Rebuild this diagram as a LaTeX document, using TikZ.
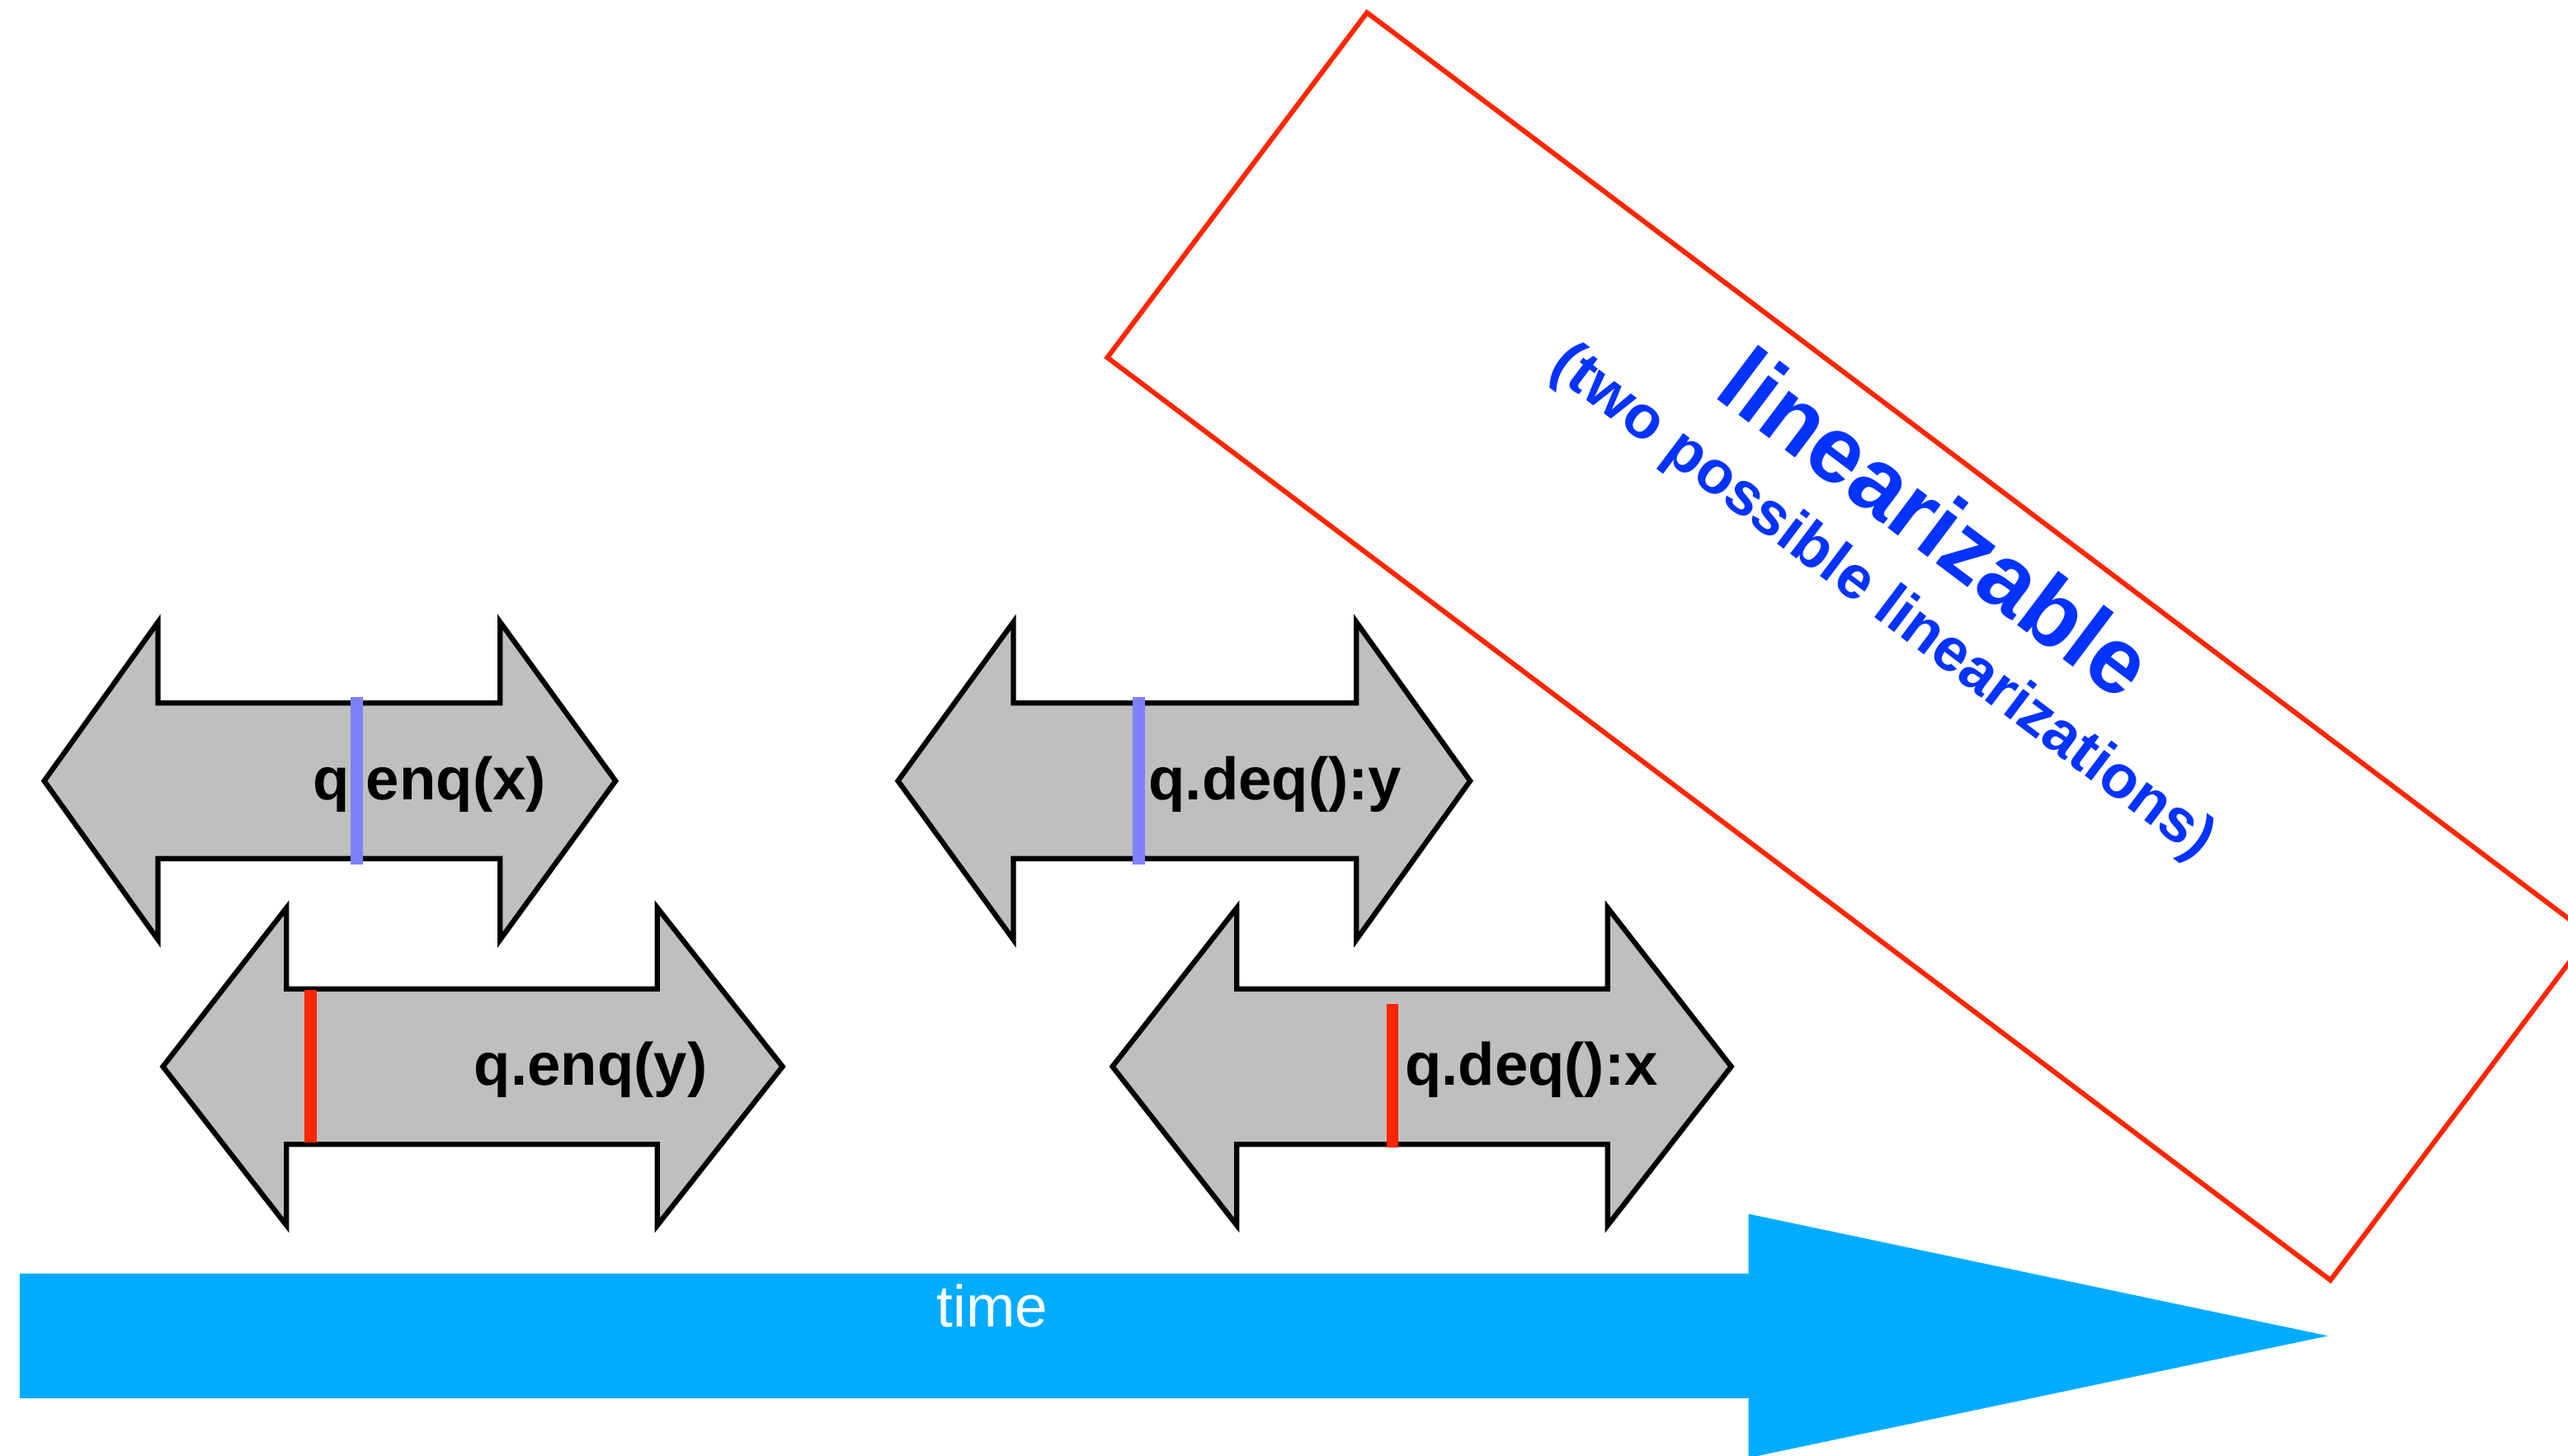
\documentclass[tikz,border=0pt]{standalone}
\usepackage{fontspec}
\setmainfont{Liberation Sans}
\definecolor{qgray}{RGB}{191,191,191}
\definecolor{mblue}{RGB}{128,128,255}
\definecolor{mred}{RGB}{255,38,0}
\definecolor{tblue}{RGB}{4,51,255}
\definecolor{tcyan}{RGB}{0,172,255}
\newcommand\dblarrowshape[5]{%
  \draw[arrowbody] ({#1},{#5}) -- ({#2},{#5-97}) -- ({#2},{#5-47.5}) -- ({#3},{#5-47.5})
    -- ({#3},{#5-97}) -- ({#4},{#5}) -- ({#3},{#5+97}) -- ({#3},{#5+47.5})
    -- ({#2},{#5+47.5}) -- ({#2},{#5+97}) -- cycle;}
\begin{document}
\begin{tikzpicture}[x=0.01cm,y=-0.01cm,
  arrowbody/.style={fill=qgray,draw=black,line width=0.9pt,line join=miter},
  lbl/.style={font=\fontsize{10.4}{12}\selectfont\bfseries,anchor=base west,inner sep=0pt},
  marker/.style={line width=2.1pt},
  ttl/.style={rotate=-37,text=tblue,inner sep=0pt,font=\bfseries}]
\useasboundingbox (0,0) rectangle (1568.6,889);
\clip (0,0) rectangle (1568.6,889);
% time arrow
\fill[tcyan] (12,778) -- (1068,778) -- (1068,741.5) -- (1422,816) -- (1068,890.5) -- (1068,854) -- (12,854) -- cycle;
\node[text=white,anchor=base,inner sep=0pt,font=\fontsize{10.2}{12}\selectfont] (time) at (606,810.6) {time};
% linearizable box
\draw[mred,line width=0.85pt,line join=miter] (835,7.7) -- (1582,571) -- (1423.5,782) -- (676.4,218.4) -- cycle;
\node[ttl,font=\fontsize{16.3}{18}\selectfont\bfseries] (title) at (1183,319) {linearizable};
\node[ttl,font=\fontsize{10.55}{12}\selectfont\bfseries] (sub) at (1149.5,368.5) {(two possible linearizations)};
% double arrows
\dblarrowshape{27}{96.5}{305.5}{376}{477}
\dblarrowshape{99.5}{175}{401.5}{478}{651.5}
\dblarrowshape{548.5}{619}{828.5}{898}{477}
\dblarrowshape{679.5}{755.5}{982}{1057.5}{651.5}
\node[lbl] (enqx) at (190.5,488.5) {q.enq(x)};
\node[lbl] (enqy) at (289,663) {q.enq(y)};
\node[lbl] (deqy) at (701,488.5) {q.deq():y};
\node[lbl] (deqx) at (857.5,663) {q.deq():x};
\draw[marker,mblue] (218,426) -- (218,528);
\draw[marker,mred] (189.8,604.5) -- (189.8,698);
\draw[marker,mblue] (695.6,426) -- (695.6,528);
\draw[marker,mred] (850.6,613) -- (850.6,701);
\end{tikzpicture}
\end{document}
